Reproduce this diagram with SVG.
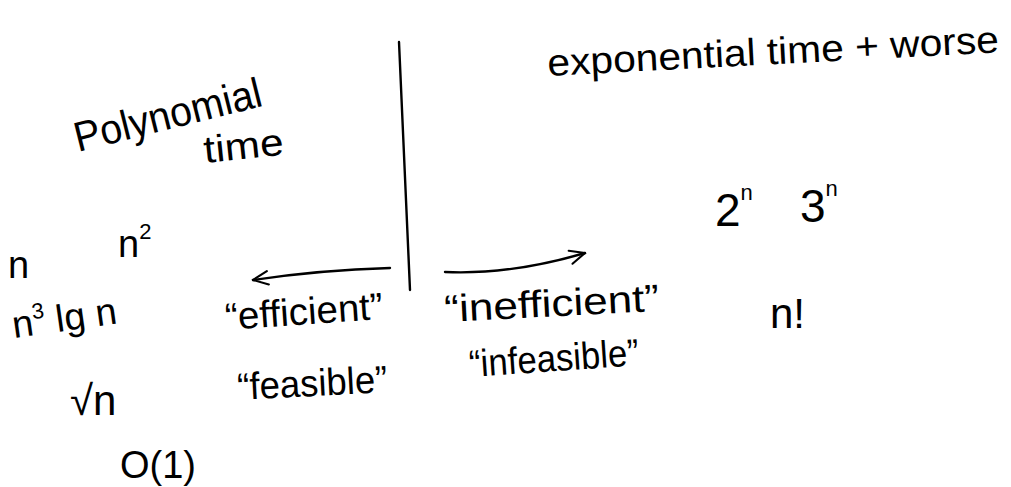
<svg xmlns="http://www.w3.org/2000/svg" width="1011" height="487" viewBox="0 0 1011 487">
<style>
  text { font-family: "Liberation Sans", "DejaVu Sans", sans-serif; fill: #000; }
  .t { font-size: 38px; }
  .s { font-size: 22px; }
  .ln { fill: none; stroke: #000; stroke-width: 2.4; stroke-linecap: round; stroke-linejoin: round; }
</style>
<defs>
  <marker id="ah" viewBox="0 0 12 12" refX="11" refY="6" markerWidth="18" markerHeight="18" markerUnits="userSpaceOnUse" orient="auto">
    <path d="M1,1.5 L11,6 L1,10.5" fill="none" stroke="#000" stroke-width="1.4" stroke-linecap="round"/>
  </marker>
</defs>
<rect width="1011" height="487" fill="#fff"/>
<g id="connectors">
  <path id="divider" class="ln" d="M399,42 Q404,160 410,290"/>
  <path id="arrow-left" class="ln" d="M390,268 Q320,270 253,280" marker-end="url(#ah)"/>
  <path id="arrow-right" class="ln" d="M445,272 Q510,275 585,253" marker-end="url(#ah)"/>
</g>
<g id="poly-title"><text class="t" x="78" y="152" transform="rotate(-14 78 152)" textLength="192" lengthAdjust="spacingAndGlyphs" style="font-size:42px">Polynomial</text><text class="t" x="205" y="163" transform="rotate(-6 205 163)" textLength="80" lengthAdjust="spacingAndGlyphs">time</text></g>
<g id="exp-title"><text class="t" x="548" y="76" transform="rotate(-3 548 76)" textLength="452" lengthAdjust="spacingAndGlyphs">exponential time + worse</text></g>
<g id="n"><text class="t" x="8" y="278">n</text></g>
<g id="n2"><text class="t" x="118" y="257">n<tspan class="s" dy="-18">2</tspan></text></g>
<g id="n3lgn"><text class="t" x="14" y="338" transform="rotate(-8 14 338)">n<tspan class="s" dy="-16">3</tspan><tspan dy="16"> lg n</tspan></text></g>
<g id="sqrtn"><text class="t" x="70" y="415" style="font-size:42px">√n</text></g>
<g id="o1"><text class="t" x="120" y="478">O(1)</text></g>
<g id="efficient"><text class="t" x="226" y="330" transform="rotate(-4 226 330)" textLength="158" lengthAdjust="spacingAndGlyphs">“efficient”</text></g>
<g id="feasible"><text class="t" x="238" y="400" transform="rotate(-3 238 400)" textLength="150" lengthAdjust="spacingAndGlyphs">“feasible”</text></g>
<g id="inefficient"><text class="t" x="445" y="322" transform="rotate(-3 445 322)" textLength="215" lengthAdjust="spacingAndGlyphs">“inefficient”</text></g>
<g id="infeasible"><text class="t" x="470" y="377" transform="rotate(-4 470 377)" textLength="170" lengthAdjust="spacingAndGlyphs">“infeasible”</text></g>
<g id="two-n"><text class="t" x="715" y="226" style="font-size:46px">2<tspan class="s" dy="-26">n</tspan></text></g>
<g id="three-n"><text class="t" x="800" y="222" style="font-size:46px">3<tspan class="s" dy="-26">n</tspan></text></g>
<g id="nfact"><text class="t" x="770" y="328" style="font-size:42px">n!</text></g>
</svg>
